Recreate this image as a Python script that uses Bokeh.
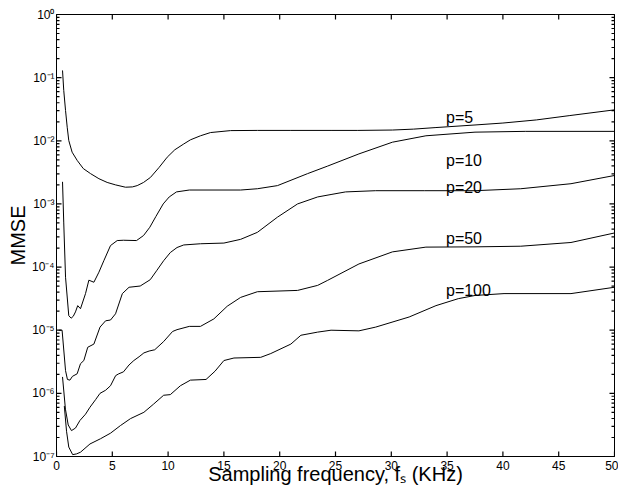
from bokeh.plotting import figure
from bokeh.models import LinearAxis, LogAxis, FixedTicker, CustomJSTickFormatter, Range1d
from bokeh.core.properties import value
from bokeh.embed import file_html
from bokeh.resources import INLINE

# ---- data (x: sampling frequency in KHz, y: MMSE) ----
x_p5 = [0.54, 0.65, 0.81, 0.96, 1.1, 1.4, 1.85, 2.4, 3.05, 3.8, 4.54, 5.3, 6.18, 6.8, 7.23, 7.8,
        8.42, 9.2, 9.92, 10.6, 11.4, 12.0, 12.9, 13.8, 15.6, 18, 21, 24.6, 27, 30.1, 32, 34, 37.5,
        40, 43, 46, 50]
mmse_p5 = [1.30e-1, 6.25e-2, 3.02e-2, 1.64e-2, 1.01e-2, 6.6e-3, 4.9e-3, 3.63e-3, 3.02e-3, 2.51e-3,
           2.19e-3, 2.0e-3, 1.84e-3, 1.86e-3, 1.95e-3, 2.19e-3, 2.63e-3, 3.8e-3, 5.5e-3, 7.2e-3,
           8.9e-3, 1.035e-2, 1.2e-2, 1.35e-2, 1.45e-2, 1.46e-2, 1.46e-2, 1.46e-2, 1.46e-2, 1.48e-2,
           1.53e-2, 1.62e-2, 1.78e-2, 1.91e-2, 2.14e-2, 2.51e-2, 3.09e-2]

x_p10 = [0.54, 0.65, 0.81, 1.1, 1.31, 1.5, 1.7, 1.9, 2.15, 2.6, 2.9, 3.35, 3.8, 4.24, 4.84, 5.44,
         6.0, 7.17, 7.8, 8.36, 8.9, 9.56, 10.1, 10.75, 11.9, 16.5, 18, 19.8, 22.5, 24.3, 27.1, 30.1,
         33.1, 37.5, 42, 50]
mmse_p10 = [2.24e-3, 5.0e-4, 6.9e-5, 1.70e-5, 1.55e-5, 1.66e-5, 1.95e-5, 2.45e-5, 2.19e-5, 3.8e-5,
            6.2e-5, 5.75e-5, 8.3e-5, 1.26e-4, 2.19e-4, 2.63e-4, 2.66e-4, 2.63e-4, 3.16e-4, 4.27e-4,
            6.3e-4, 1.0e-3, 1.29e-3, 1.55e-3, 1.66e-3, 1.66e-3, 1.74e-3, 1.95e-3, 3.02e-3, 3.98e-3,
            6.2e-3, 9.5e-3, 1.2e-2, 1.37e-2, 1.41e-2, 1.41e-2]

x_p20 = [0.2, 0.5, 0.81, 0.98, 1.2, 1.43, 1.85, 2.15, 2.45, 2.8, 3.35, 3.9, 4.4, 4.84, 5.29, 5.9,
         6.5, 7.5, 8.4, 9.0, 9.6, 10.2, 10.8, 11.4, 12.9, 15, 16.5, 18, 19.8, 21.6, 23.4, 24.6,
         25.9, 28.6, 33, 37.5, 41.6, 46.1, 50]
mmse_p20 = [1.0e-5, 1.0e-5, 2.29e-6, 1.66e-6, 1.62e-6, 1.86e-6, 2.04e-6, 2.95e-6, 3.31e-6, 5.37e-6,
            6.03e-6, 1.12e-5, 1.41e-5, 1.45e-5, 1.82e-5, 3.8e-5, 4.79e-5, 5.01e-5, 6.31e-5, 8.91e-5,
            1.26e-4, 1.70e-4, 2.04e-4, 2.24e-4, 2.34e-4, 2.40e-4, 2.75e-4, 3.55e-4, 6.17e-4, 1.0e-3,
            1.29e-3, 1.41e-3, 1.55e-3, 1.62e-3, 1.62e-3, 1.62e-3, 1.74e-3, 2.09e-3, 2.82e-3]

x_p50 = [0.54, 0.8, 1.05, 1.34, 1.7, 2.1, 2.6, 3.0, 3.5, 3.9, 4.4, 4.84, 5.3, 5.58, 6.0, 6.5, 6.93,
         7.4, 7.83, 8.3, 8.8, 9.6, 10.4, 10.8, 11.9, 12.9, 14.1, 15.3, 16.5, 18, 21.6, 23.4, 24.3,
         27.1, 30.1, 33.1, 37.5, 41.6, 46.1, 50]
mmse_p50 = [1.82e-6, 5.62e-7, 3.16e-7, 2.57e-7, 2.82e-7, 3.72e-7, 4.68e-7, 6.03e-7, 7.94e-7, 1.0e-6,
            1.12e-6, 1.32e-6, 1.91e-6, 2.04e-6, 2.19e-6, 2.82e-6, 3.31e-6, 3.8e-6, 4.37e-6, 4.68e-6,
            4.9e-6, 6.61e-6, 9.55e-6, 1.02e-5, 1.15e-5, 1.15e-5, 1.51e-5, 2.4e-5, 3.31e-5, 4.07e-5,
            4.27e-5, 5.13e-5, 6.17e-5, 1.12e-4, 1.74e-4, 2.07e-4, 2.09e-4, 2.14e-4, 2.45e-4, 3.47e-4]

x_p100 = [0.7, 0.9, 1.1, 1.45, 1.8, 2.15, 3.0, 3.94, 4.84, 5.73, 6.63, 7.83, 8.7, 9.6, 10.2, 11.1,
          12.0, 13.4, 14.2, 15.0, 15.9, 18.3, 19.2, 21.0, 21.9, 23.4, 24.6, 27.1, 28.6, 31.6, 34.0,
          36.0, 37.5, 40.1, 46.1, 50]
mmse_p100 = [6.31e-7, 2.51e-7, 1.41e-7, 1.07e-7, 1.10e-7, 1.17e-7, 1.58e-7, 1.91e-7, 2.34e-7, 3.09e-7,
             3.98e-7, 5.01e-7, 6.76e-7, 9.33e-7, 9.55e-7, 1.32e-6, 1.62e-6, 1.66e-6, 2.24e-6, 3.31e-6,
             3.63e-6, 3.72e-6, 4.27e-6, 6.03e-6, 8.32e-6, 9.33e-6, 1.0e-5, 9.77e-6, 1.12e-5, 1.62e-5,
             2.45e-5, 3.16e-5, 3.55e-5, 3.8e-5, 3.8e-5, 4.79e-5]

series_labels = ["p=5", "p=10", "p=20", "p=50", "p=100"]
x_ticks = [0, 5, 10, 15, 20, 25, 30, 35, 40, 45, 50]
y_exponents = [-7, -6, -5, -4, -3, -2, -1, 0]
x_lo, x_hi = 0, 50
y_lo, y_hi = 1e-7, 1.0

# label anchor positions (data coords)
label_x = [34.9, 34.9, 34.9, 34.9, 34.9]
label_y = [2.37e-2, 4.88e-3, 1.84e-3, 2.8e-4, 4.26e-5]

FONT = "Liberation Sans"
W, H = 618, 498
BL, BR, BT, BB = 56, 4, 14, 42

p = figure(width=W, height=H, y_axis_type="log",
           x_range=Range1d(x_lo, x_hi), y_range=Range1d(y_lo, y_hi),
           output_backend="svg", toolbar_location=None,
           min_border_left=BL, min_border_right=BR, min_border_top=BT, min_border_bottom=BB)
p.grid.visible = False
p.outline_line_color = "black"
p.background_fill_color = "white"
p.border_fill_color = "white"

for xs, ys in [(x_p5, mmse_p5), (x_p10, mmse_p10), (x_p20, mmse_p20),
               (x_p50, mmse_p50), (x_p100, mmse_p100)]:
    p.line(xs, ys, line_color="black", line_width=1)

p.text(x=label_x, y=label_y, text=series_labels, text_font=value(FONT),
       text_font_size="16px", text_color="black",
       text_align="left", text_baseline="alphabetic")

y_major = [10.0 ** e for e in y_exponents]
y_minor = [m * 10.0 ** e for e in y_exponents[:-1] for m in range(2, 10)]
x_ticker = FixedTicker(ticks=x_ticks, minor_ticks=[])
y_ticker = FixedTicker(ticks=y_major, minor_ticks=y_minor)

# inward tick marks on all four sides, drawn as short lines (lengths in pixels)
frame_w = W - BL - BR
frame_h = H - BT - BB
px_per_x = frame_w / (x_hi - x_lo)
px_per_dec = frame_h / (len(y_exponents) - 1)
MAJ, MIN = 5, 3
fy_maj = 10 ** (MAJ / px_per_dec)
dx_maj, dx_min = MAJ / px_per_x, MIN / px_per_x
TICK = dict(line_color="black", line_width=1.2)

for t in x_ticks:
    p.line([t, t], [y_lo, y_lo * fy_maj], **TICK)
    p.line([t, t], [y_hi, y_hi / fy_maj], **TICK)
for ticks, dx in ((y_major, dx_maj), (y_minor, dx_min)):
    for t in ticks:
        p.line([x_lo, x_lo + dx], [t, t], **TICK)
        p.line([x_hi, x_hi - dx], [t, t], **TICK)

y_fmt = CustomJSTickFormatter(code="""
const sup = {'-':'\u207b','0':'\u2070','1':'\u00b9','2':'\u00b2','3':'\u00b3','4':'\u2074',
             '5':'\u2075','6':'\u2076','7':'\u2077','8':'\u2078','9':'\u2079'};
const e = Math.round(Math.log10(tick));
return '10' + String(e).split('').map(c => sup[c]).join('');
""")
blank = CustomJSTickFormatter(code="return '';")

def style(ax):
    ax.major_tick_in = 0
    ax.major_tick_out = 0
    ax.minor_tick_in = 0
    ax.minor_tick_out = 0
    ax.axis_line_color = "black"
    ax.axis_line_width = 1
    ax.major_label_text_font = FONT
    ax.major_label_text_color = "black"
    ax.axis_label_text_font = FONT
    ax.axis_label_text_font_style = "normal"
    ax.axis_label_text_color = "black"

xa = p.below[0]
xa.ticker = x_ticker
style(xa)
xa.major_label_text_font_size = "12px"
xa.major_label_standoff = 4
xa.axis_label = "Sampling frequency, f\u209b (KHz)"
xa.axis_label_text_font_size = "20px"
xa.axis_label_standoff = -10

ya = p.left[0]
ya.ticker = y_ticker
ya.formatter = y_fmt
style(ya)
ya.major_label_text_font_size = "12px"
ya.major_label_standoff = 2
ya.axis_label = "MMSE"
ya.axis_label_text_font_size = "20px"
ya.axis_label_standoff = 0

top = LinearAxis(ticker=x_ticker, formatter=blank)
style(top)
top.major_label_standoff = 0
p.add_layout(top, "above")

right = LogAxis(ticker=y_ticker, formatter=blank)
style(right)
right.major_label_standoff = 0
p.add_layout(right, "right")

with open("out.html", "w", encoding="utf-8") as f:
    f.write(file_html(p, INLINE))
